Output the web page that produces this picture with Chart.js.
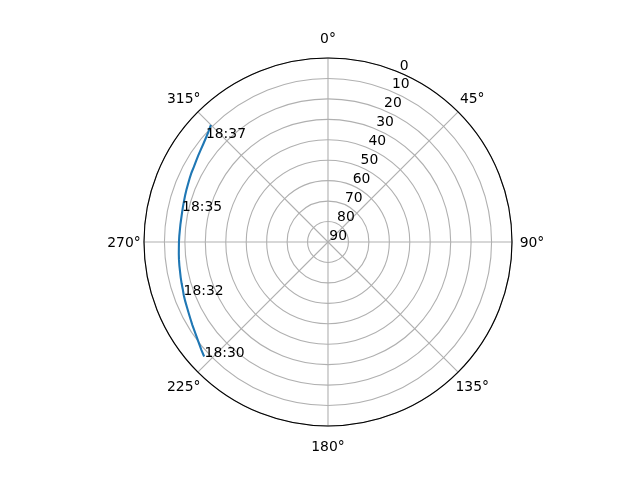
<!DOCTYPE html>
<html lang="en">
<head>
    <meta charset="UTF-8">
    <title>Satellite pass sky plot</title>
    <script src="https://cdn.jsdelivr.net/npm/chart.js"></script>
    <style>
        body { margin: 0; background: #fff; }
        canvas { display: block; }
    </style>
</head>
<body>
    <canvas id="skyChart" width="640" height="480"></canvas>

    <script>
        // azimuth grid of the radar scale: one spoke every 2.25 degrees
        const azimuthStep = 2.25;
        const azimuthTicks = [0, 45, 90, 135, 180, 225, 270, 315];
        const elevationTicks = [0, 10, 20, 30, 40, 50, 60, 70, 80, 90];

        // pass track (azimuth deg, elevation deg)
        const trackAz = [227.25, 229.5, 231.75, 234, 236.25, 238.5, 240.75, 243, 245.25, 247.5,
                         249.75, 252, 254.25, 256.5, 258.75, 261, 263.25, 265.5, 267.75, 270,
                         272.25, 274.5, 276.75, 279, 281.25, 283.5, 285.75, 288, 290.25, 292.5,
                         294.75, 297, 299.25, 301.5, 303.75, 306, 308.25, 310.5, 312.75, 315];
        const trackEl = [7.5, 8.6, 9.7, 10.7, 11.5, 12.2, 12.9, 13.5, 14.0, 14.4,
                         14.8, 15.3, 15.6, 15.9, 16.2, 16.4, 16.6, 16.8, 17.0, 17.1,
                         17.2, 17.3, 17.3, 17.3, 17.2, 17.0, 16.8, 16.5, 16.2, 15.9,
                         15.5, 15.1, 14.8, 14.3, 13.7, 13.1, 12.4, 11.5, 10.4, 9.0];

        // time annotations along the track
        const passTimes = ['18:30', '18:32', '18:35', '18:37'];
        const passTimeAz = [226.9, 249.7, 282.1, 310.4];
        const passTimeEl = [7.35, 14.7, 17.0, 11.6];

        const spokeCount = Math.round(360 / azimuthStep);
        const spokeLabels = Array.from({ length: spokeCount }, (_, i) => i * azimuthStep);
        const trackData = new Array(spokeCount).fill(null);
        trackAz.forEach((az, i) => {
            trackData[Math.round(az / azimuthStep) % spokeCount] = trackEl[i];
        });

        const rad = (deg) => deg * Math.PI / 180;
        const labelFont = '13.9px "DejaVu Sans"';

        const polarDecor = {
            id: 'polarDecor',
            afterDraw(chart) {
                const s = chart.scales.r;
                const ctx = chart.ctx;
                ctx.save();

                // outer spine
                ctx.beginPath();
                ctx.arc(s.xCenter, s.yCenter, s.drawingArea, 0, 2 * Math.PI);
                ctx.strokeStyle = '#000';
                ctx.lineWidth = 1.1;
                ctx.stroke();

                ctx.font = labelFont;
                ctx.fillStyle = '#000';
                ctx.textBaseline = 'alphabetic';

                // azimuth labels
                ctx.textAlign = 'center';
                azimuthTicks.forEach(a => {
                    const p = s.getPointPosition(0, s.drawingArea + 20, rad(a));
                    ctx.fillText(a + '°', p.x, p.y + 5);
                });

                // elevation labels along 22.5 deg
                ctx.textAlign = 'left';
                elevationTicks.forEach(v => {
                    const p = s.getPointPosition(0, s.getDistanceFromCenterForValue(v), rad(22.5));
                    ctx.fillText(String(v), p.x + 1.3, p.y - 2.4);
                });

                // time labels
                passTimes.forEach((t, i) => {
                    const p = s.getPointPosition(0, s.getDistanceFromCenterForValue(passTimeEl[i]), rad(passTimeAz[i]));
                    ctx.fillText(t, p.x, p.y);
                });
                ctx.restore();
            }
        };

        new Chart(document.getElementById('skyChart').getContext('2d'), {
            type: 'radar',
            data: {
                labels: spokeLabels,
                datasets: [{
                    data: trackData,
                    borderColor: '#1f77b4',
                    borderWidth: 2.1,
                    pointRadius: 0,
                    fill: false,
                    tension: 0,
                    spanGaps: false
                }]
            },
            options: {
                responsive: false,
                animation: false,
                layout: { padding: { left: 143, right: 127, top: 58, bottom: 53 } },
                plugins: { legend: { display: false }, tooltip: { enabled: false } },
                scales: {
                    r: {
                        min: 0,
                        max: 90,
                        reverse: true,
                        startAngle: 0,
                        ticks: { stepSize: 10, display: false },
                        pointLabels: { display: false },
                        grid: { circular: true, color: '#b0b0b0', lineWidth: 1.1 },
                        angleLines: {
                            display: true,
                            color: '#b0b0b0',
                            lineWidth: (c) => (c.index * azimuthStep) % 45 === 0 ? 1.1 : 0
                        }
                    }
                }
            },
            plugins: [polarDecor]
        });
    </script>
</body>
</html>
